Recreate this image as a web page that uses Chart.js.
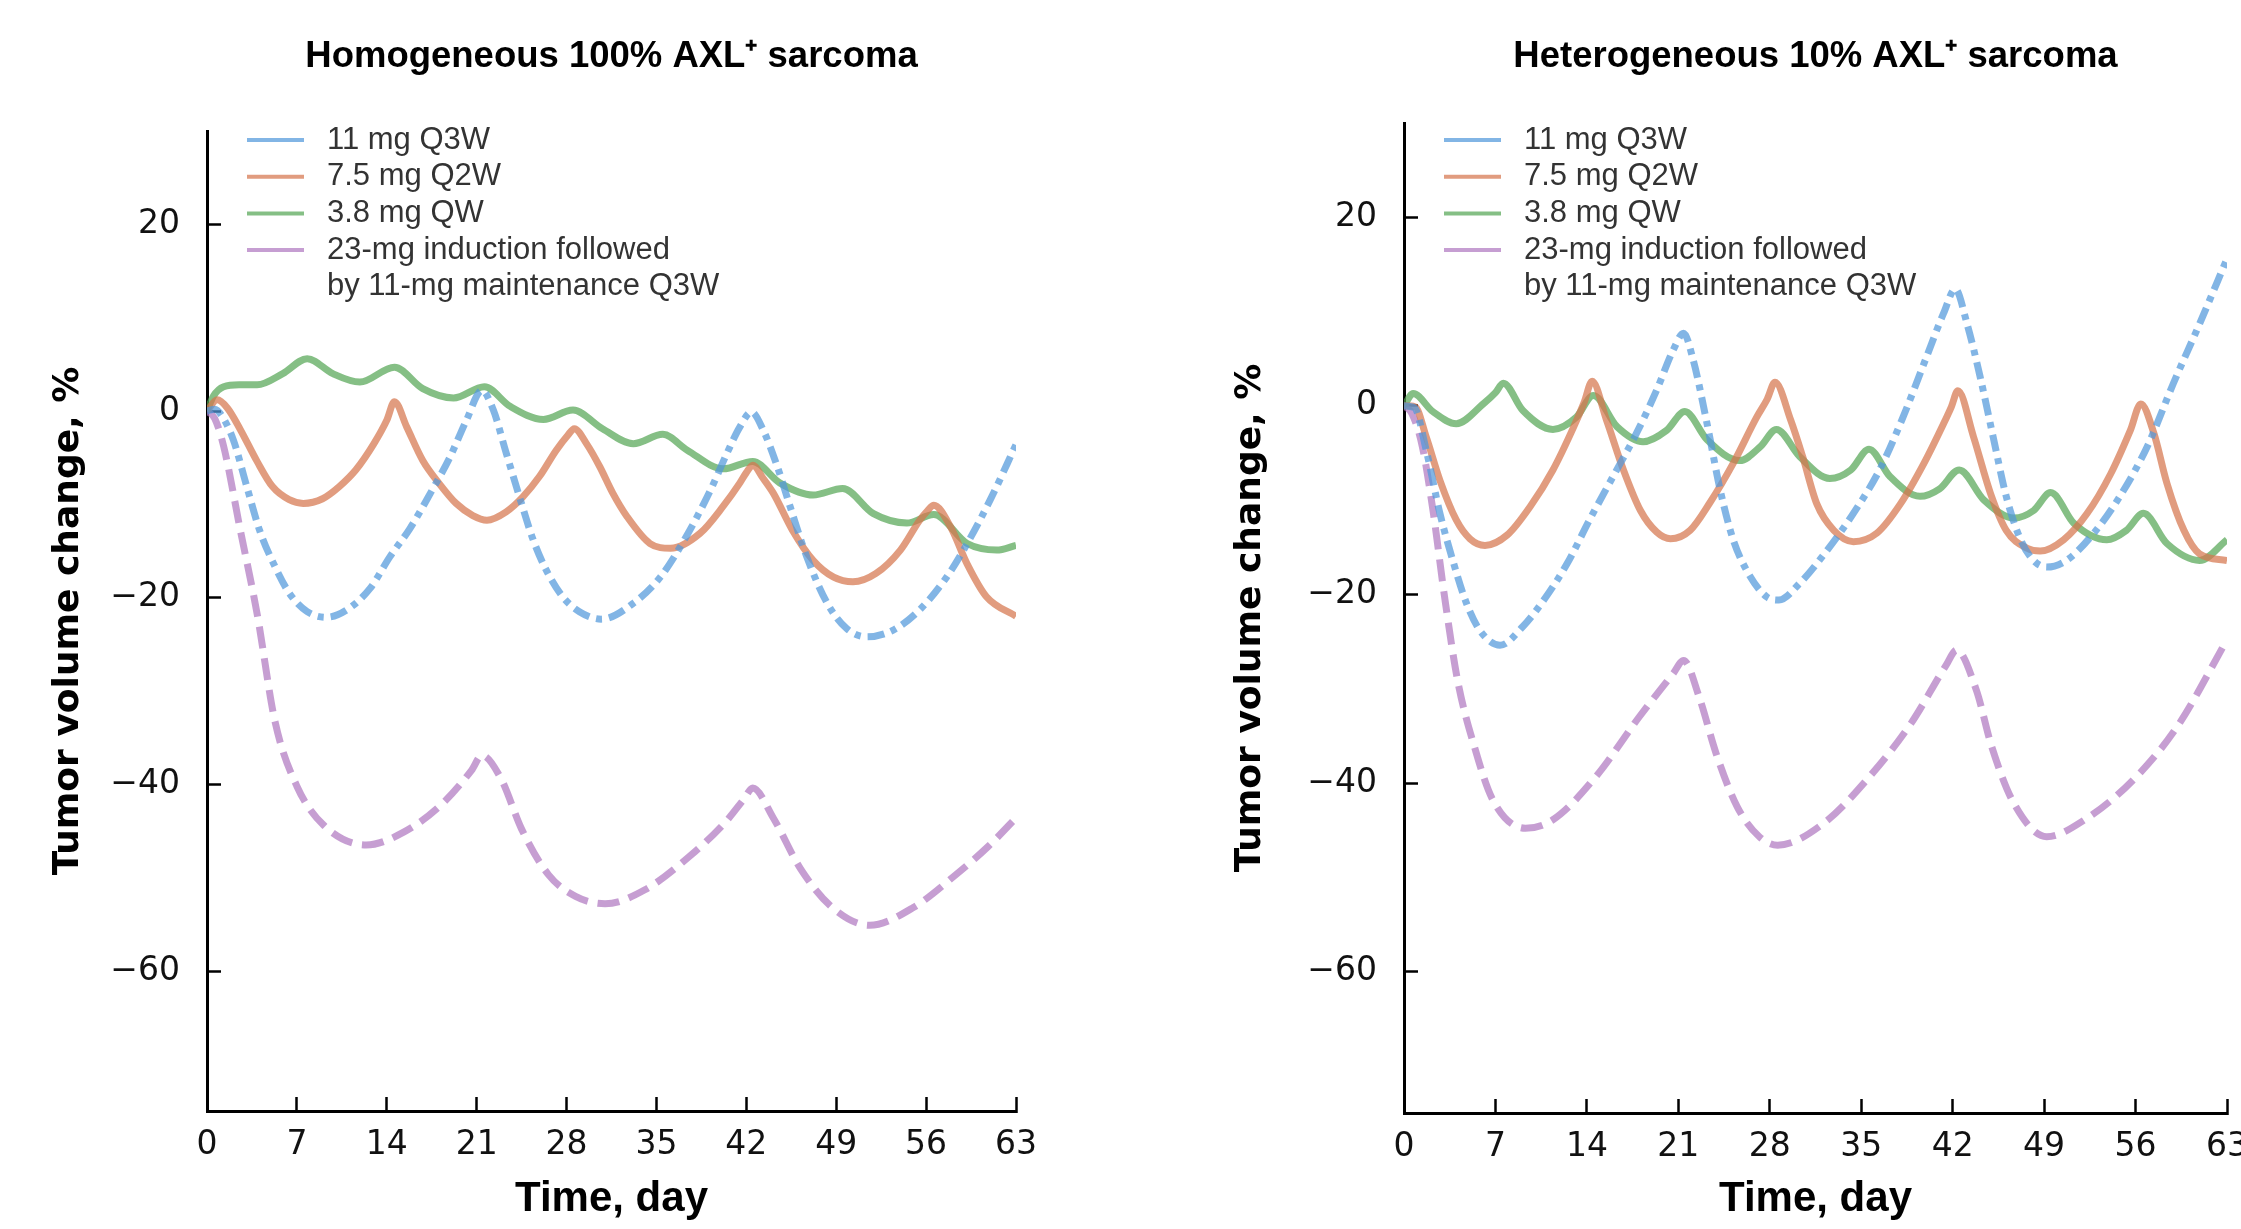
<!DOCTYPE html>
<html lang="en">

<head>
  <meta charset="UTF-8">
  <title>Tumor volume change, AXL+ sarcoma</title>
  <script src="https://cdn.jsdelivr.net/npm/chart.js"></script>
  <style>
    html, body {
      margin: 0;
      padding: 0;
      background: #fff;
      overflow: hidden;
    }

    .panel {
      position: absolute;
      top: 0;
      height: 1229px;
    }

    #leftPanel { left: 0; width: 1120px; }
    #rightPanel { left: 1120px; width: 1121px; }
  </style>
</head>

<body>

  <div class="panel" id="leftPanel"><canvas id="homChart"></canvas></div>
  <div class="panel" id="rightPanel"><canvas id="hetChart"></canvas></div>

  <script>
    // legend text, one entry per regimen (the last one wraps onto two lines)
    const seriesLabels = [
      ['11 mg Q3W'],
      ['7.5 mg Q2W'],
      ['3.8 mg QW'],
      ['23-mg induction followed', 'by 11-mg maintenance Q3W']
    ];
    const dayTicks = [0, 7, 14, 21, 28, 35, 42, 49, 56, 63];
    const volumeTicks = [-60, -40, -20, 0, 20];

    // Homogeneous 100% AXL+ sarcoma
    const homBlueDays = [0, 0.6, 1.1, 2.05, 3.1, 4.1, 5.2, 6.45, 7.8, 9.3, 10.9, 12.7, 14.25, 15.8, 17.4, 18.9, 20.2, 21.4, 22.3, 23.3, 24.4, 25.4, 26.4, 27.7, 29.0, 30.7, 33.2, 35.3, 37.3, 39.2, 40.5, 41.5, 42.4, 43.3, 44.4, 45.4, 46.7, 48.3, 49.8, 51.4, 53.4, 55.5, 57.6, 59.2, 61.0, 63];
    const homBlueVals = [0, 0.2, -0.4, -3.1, -8.1, -12.8, -16.4, -19.6, -21.5, -22.1, -21.3, -19.0, -15.6, -12.6, -8.8, -5.0, -1.0, 2.2, 0.1, -4.5, -9.5, -13.8, -17.0, -19.9, -21.5, -22.3, -20.6, -17.8, -13.5, -8.5, -4.5, -1.7, -0.1, -2.0, -5.9, -10.2, -15.6, -20.6, -23.3, -24.2, -23.5, -21.3, -17.8, -14.2, -9.5, -3.6];

    const homOrangeDays = [0, 0.8, 1.6, 2.6, 3.9, 5.1, 6.4, 7.5, 9.0, 10.3, 11.6, 13.0, 14.0, 14.6, 15.55, 16.8, 18.1, 19.4, 20.7, 21.8, 23.3, 24.6, 25.9, 27.2, 28.1, 28.6, 29.6, 30.6, 31.6, 32.7, 34.5, 36.1, 38.4, 40.2, 41.5, 42.0, 42.5, 43.3, 44.1, 45.6, 47.2, 48.8, 50.3, 52.1, 54.0, 55.5, 56.1, 56.6, 57.9, 59.2, 60.7, 63];
    const homOrangeVals = [0, 1.2, 0.3, -2.0, -5.4, -8.1, -9.5, -9.9, -9.4, -8.1, -6.3, -3.5, -1.0, 1.0, -1.7, -5.3, -7.8, -9.9, -11.2, -11.7, -10.8, -9.2, -7.0, -4.2, -2.6, -1.9, -3.6, -6.0, -8.8, -11.3, -14.2, -14.7, -13.1, -10.2, -7.7, -6.6, -5.8, -7.2, -8.8, -12.8, -16.0, -17.8, -18.3, -17.4, -14.9, -11.7, -10.7, -10.1, -12.4, -16.4, -19.9, -22.0];

    const homGreenDays = [0, 0.5, 1.3, 2.5, 3.9, 5.9, 7.8, 9.8, 11.9, 14.6, 16.8, 19.2, 21.6, 23.6, 26.2, 28.5, 30.8, 33.2, 35.5, 37.4, 40.2, 42.5, 44.6, 47.2, 49.5, 51.9, 54.5, 56.6, 59.2, 61.5, 63];
    const homGreenVals = [0, 1.6, 2.6, 2.8, 2.8, 4.0, 5.6, 4.0, 3.1, 4.7, 2.4, 1.4, 2.6, 0.5, -0.9, 0.1, -1.9, -3.5, -2.5, -4.2, -6.2, -5.4, -7.7, -9.0, -8.3, -11.0, -12.0, -11.1, -14.2, -14.9, -14.4];

    const homPurpleDays = [0, 0.6, 1.3, 2.6, 3.9, 5.3, 7.0, 9.1, 12.4, 15.35, 18.3, 20.6, 21.4, 22.9, 24.5, 26.6, 28.7, 31.0, 34.1, 37.5, 40.4, 41.8, 42.5, 44.1, 46.2, 48.7, 51.6, 55.0, 58.3, 60.8, 63];
    const homPurpleVals = [0, -0.8, -3.8, -12.8, -21.7, -33.3, -40.2, -44.4, -46.5, -45.1, -42.1, -38.5, -36.9, -39.4, -44.8, -49.7, -52.0, -52.8, -51.3, -47.8, -44.0, -41.6, -40.4, -43.6, -49.0, -53.2, -55.1, -53.2, -49.7, -46.7, -43.6];

    // Heterogeneous 10% AXL+ sarcoma
    const hetBlueDays = [0, 0.8, 1.7, 2.75, 3.8, 4.8, 5.8, 7.35, 9.1, 10.7, 12.5, 14.2, 16.0, 17.8, 19.35, 20.6, 21.4, 22.15, 23.2, 24.2, 25.2, 26.5, 27.8, 28.7, 30.3, 32.4, 34.4, 36.4, 38.2, 40.0, 41.3, 42.2, 43.1, 44.1, 45.1, 46.1, 47.2, 48.2, 49.2, 50.7, 52.8, 54.8, 56.9, 58.9, 60.9, 63];
    const hetBlueVals = [0, -0.2, -4.7, -11.4, -16.7, -21.0, -23.8, -25.4, -23.4, -20.6, -16.7, -12.1, -7.5, -2.9, 1.7, 5.9, 7.7, 4.8, -1.9, -8.9, -14.2, -18.1, -20.3, -20.6, -18.8, -15.3, -11.4, -6.8, -1.2, 5.2, 9.8, 12.4, 8.7, 3.1, -3.3, -9.6, -14.2, -16.4, -17.1, -16.4, -13.5, -9.6, -4.3, 2.4, 8.7, 15.6];

    const hetOrangeDays = [0, 0.85, 1.7, 2.75, 4.0, 5.05, 6.2, 7.9, 9.65, 11.4, 13.0, 13.8, 14.4, 15.5, 16.8, 18.1, 19.35, 20.4, 21.9, 23.4, 25.2, 27.0, 27.8, 28.4, 29.6, 30.5, 31.6, 32.9, 34.4, 36.2, 38.0, 39.8, 41.3, 41.9, 42.4, 43.6, 44.9, 46.1, 47.7, 48.7, 50.5, 52.3, 54.1, 55.6, 56.4, 57.4, 58.4, 59.7, 60.9, 63];
    const hetOrangeVals = [0, -0.1, -3.3, -7.9, -12.1, -14.1, -14.8, -13.7, -10.7, -6.8, -2.2, 0.4, 2.6, -1.5, -6.8, -11.1, -13.4, -14.1, -13.2, -10.3, -6.1, -1.2, 0.7, 2.5, -1.5, -5.3, -10.4, -13.2, -14.4, -13.5, -10.4, -6.1, -1.9, -0.1, 1.6, -3.3, -9.3, -13.2, -15.1, -15.4, -14.2, -11.4, -7.2, -2.6, 0.2, -2.9, -8.2, -13.2, -15.7, -16.4];

    const hetGreenDays = [0, 0.7, 2.2, 4.0, 6.1, 7.0, 7.6, 9.1, 11.4, 13.2, 14.5, 16.3, 18.3, 20.1, 21.5, 23.2, 25.7, 27.3, 28.5, 30.3, 32.6, 34.2, 35.6, 37.2, 39.5, 41.0, 42.5, 44.4, 46.7, 48.2, 49.5, 51.3, 53.8, 55.3, 56.6, 58.4, 60.9, 63];
    const hetGreenVals = [0, 1.3, -0.6, -1.9, 0.25, 1.4, 2.4, -0.5, -2.5, -1.2, 1.1, -2.2, -3.8, -2.6, -0.6, -3.6, -5.8, -4.3, -2.5, -5.4, -7.7, -6.8, -4.6, -7.5, -9.6, -8.8, -6.8, -10.0, -11.9, -11.1, -9.2, -12.5, -14.2, -13.2, -11.4, -14.6, -16.4, -14.2];

    const hetPurpleDays = [0, 0.6, 1.4, 2.25, 3.1, 4.1, 5.4, 6.8, 9.3, 11.4, 14.7, 18.0, 20.6, 21.4, 22.6, 23.9, 25.5, 27.2, 28.6, 32.1, 35.4, 38.8, 41.5, 42.3, 43.8, 45.0, 46.7, 49.2, 52.1, 55.8, 59.2, 63];
    const hetPurpleVals = [0, -0.8, -4.3, -11.4, -20.2, -29.1, -36.2, -41.8, -44.8, -43.9, -39.3, -33.0, -28.4, -27.0, -30.9, -36.9, -42.5, -45.7, -46.6, -44.3, -39.7, -33.7, -27.5, -25.9, -30.1, -36.2, -42.2, -45.7, -43.9, -39.7, -34.0, -24.8];

    // look of each regimen
    const seriesColors = ['rgba(82, 152, 219, 0.72)', 'rgba(214, 118, 78, 0.72)', 'rgba(86, 166, 86, 0.72)', 'rgba(176, 120, 192, 0.72)'];
    const seriesDashes = [[17, 7, 6, 7], [], [], [22, 10]];

    const sansFamily = '"Liberation Sans", Arial, sans-serif';
    const tickFamily = '"DejaVu Sans", sans-serif';

    function points(days, vals) {
      return days.map((d, i) => ({ x: d, y: vals[i] }));
    }

    function minusLabel(v) {
      return v < 0 ? '\u2212' + Math.abs(v) : String(v);
    }

    // legend drawn inside the plot, lines always solid
    const insideLegend = {
      id: 'insideLegend',
      afterDraw(chart) {
        const ctx = chart.ctx;
        const left = chart.chartArea.left;
        ctx.save();
        ctx.font = '31px ' + sansFamily;
        ctx.textBaseline = 'middle';
        ctx.textAlign = 'left';
        let row = 0;
        chart.data.datasets.forEach(ds => {
          const y = 140 + row * 36.7;
          ctx.strokeStyle = ds.borderColor;
          ctx.lineWidth = 4;
          ctx.setLineDash([]);
          ctx.beginPath();
          ctx.moveTo(left + 40, y);
          ctx.lineTo(left + 97, y);
          ctx.stroke();
          ds.legendLines.forEach(t => {
            ctx.fillStyle = '#333';
            ctx.fillText(t, left + 120, 140 + row * 36.7);
            row++;
          });
        });
        ctx.restore();
      }
    };

    function axisLook() {
      return {
        grid: { display: true, drawOnChartArea: false, drawTicks: true, tickLength: -14, tickWidth: 2.5, tickColor: '#000' },
        border: { display: true, color: '#000', width: 3 }
      };
    }

    function makeChart(id, titleText, series, lay) {
      const datasets = series.map((s, i) => ({
        label: seriesLabels[i].join(' '),
        legendLines: seriesLabels[i],
        data: points(s[0], s[1]),
        borderColor: seriesColors[i],
        borderDash: seriesDashes[i],
        borderWidth: 7,
        borderCapStyle: 'butt',
        borderJoinStyle: 'round',
        pointRadius: 0,
        fill: false,
        cubicInterpolationMode: 'monotone'
      }));

      return new Chart(document.getElementById(id), {
        type: 'line',
        data: { datasets: datasets },
        plugins: [insideLegend],
        options: {
          responsive: true,
          maintainAspectRatio: false,
          animation: false,
          events: [],
          layout: { padding: { left: 0, top: 0, bottom: 0, right: lay.padRight } },
          plugins: {
            legend: { display: false },
            tooltip: { enabled: false },
            title: {
              display: true,
              text: titleText,
              fullSize: false,
              color: '#000',
              font: { family: sansFamily, size: 36.5, weight: 'bold' },
              padding: { top: 35, bottom: lay.titleBottom }
            }
          },
          scales: {
            x: Object.assign(axisLook(), {
              type: 'linear',
              min: 0,
              max: 63,
              afterBuildTicks: s => { s.ticks = dayTicks.map(v => ({ value: v })); },
              afterFit: s => { s.height = lay.xHeight; s.paddingLeft = 0; s.paddingRight = 0; },
              ticks: { padding: 29, color: '#111', autoSkip: false, maxRotation: 0, font: { family: tickFamily, size: 33 } },
              title: {
                display: true,
                text: 'Time, day',
                color: '#000',
                font: { family: sansFamily, size: 42, weight: 'bold' },
                padding: { top: 0, bottom: 4 }
              }
            }),
            y: Object.assign(axisLook(), {
              min: -75,
              max: 30,
              afterBuildTicks: s => { s.ticks = volumeTicks.map(v => ({ value: v })); },
              afterFit: s => { s.width = lay.yWidth; s.paddingTop = 0; s.paddingBottom = 0; },
              ticks: { padding: 41, color: '#111', callback: minusLabel, font: { family: tickFamily, size: 33 } },
              title: {
                display: true,
                text: 'Tumor volume change, %',
                color: '#000',
                font: { family: tickFamily, size: 36, weight: 'bold' },
                padding: { top: lay.yTitlePad, bottom: 0 }
              }
            })
          }
        }
      });
    }

    makeChart('homChart', 'Homogeneous 100% AXL\u207A sarcoma', [
      [homBlueDays, homBlueVals],
      [homOrangeDays, homOrangeVals],
      [homGreenDays, homGreenVals],
      [homPurpleDays, homPurpleVals]
    ], { padRight: 104, titleBottom: 52.2, xHeight: 118, yWidth: 207, yTitlePad: 47.4 });

    makeChart('hetChart', 'Heterogeneous 10% AXL\u207A sarcoma', [
      [hetBlueDays, hetBlueVals],
      [hetOrangeDays, hetOrangeVals],
      [hetGreenDays, hetGreenVals],
      [hetPurpleDays, hetPurpleVals]
    ], { padRight: 14, titleBottom: 44.2, xHeight: 116, yWidth: 284, yTitlePad: 109 });
  </script>
</body>

</html>
